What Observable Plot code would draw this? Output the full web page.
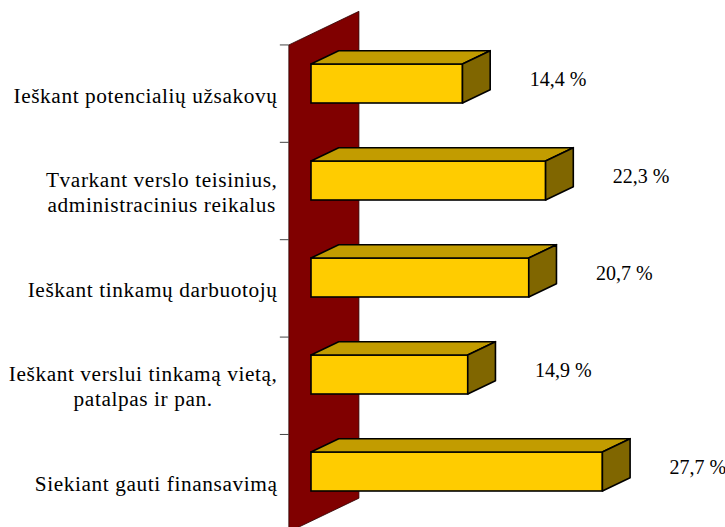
<!DOCTYPE html>
<html><head><meta charset="utf-8">
<script src="https://cdn.jsdelivr.net/npm/d3@7"></script>
<script src="https://cdn.jsdelivr.net/npm/@observablehq/plot@0.6"></script>
<style>
html,body{margin:0;padding:0;background:#fff;overflow:hidden}
#chart svg text{font-family:"Liberation Serif","Times New Roman",serif !important}
</style>
</head><body><div id="chart"></div>
<script>
const categories = [
  "Ieškant potencialių užsakovų",
  "Tvarkant verslo teisinius,\nadministracinius reikalus",
  "Ieškant tinkamų darbuotojų",
  "Ieškant verslui tinkamą vietą,\npatalpas ir pan.",
  "Siekiant gauti finansavimą"
];
const values = [14.4, 22.3, 20.7, 14.9, 27.7];
const data = categories.map((c, i) => ({category: c, value: values[i]}));

// 3D depth vector (pixels per unit depth) and wall depth extent
const DX = 27.7, DY = -13.3;
const WALL_NEAR = -0.8, WALL_FAR = 1.73;
const FONT = "Liberation Serif";
const fmt = v => v.toFixed(1).replace(".", ",") + " %";

const NS = "http://www.w3.org/2000/svg";
function path(d, fill, stroke, sw) {
  const p = document.createElementNS(NS, "path");
  p.setAttribute("d", d);
  p.setAttribute("fill", fill);
  p.setAttribute("stroke", stroke);
  p.setAttribute("stroke-width", sw);
  p.setAttribute("stroke-linejoin", "round");
  return p;
}

const wall = Plot.ruleX([0], {
  x: 0,
  render(index, scales, vals, dims) {
    const g = document.createElementNS(NS, "g");
    const x0 = scales.x(0);
    const top = dims.marginTop, bottom = dims.height - dims.marginBottom;
    const xl = x0 + WALL_NEAR * DX, xr = x0 + WALL_FAR * DX;
    const d = `M${xl},${top + WALL_NEAR * DY}L${xr},${top + WALL_FAR * DY}L${xr},${bottom + WALL_FAR * DY}L${xl},${bottom + WALL_NEAR * DY}Z`;
    g.appendChild(path(d, "#800000", "#2a0000", 0.8));
    const n = categories.length, step = (bottom - top) / n;
    for (let i = 0; i <= n; i++) {
      const y = top + i * step + WALL_NEAR * DY;
      g.appendChild(path(`M${xl - 9},${y}L${xl},${y}`, "none", "#444", 1));
    }
    return g;
  }
});

const bars = Plot.barX(data, {
  x: "value",
  y: "category",
  fill: "#FFCC00",
  stroke: "#000",
  strokeWidth: 1.6,
  render(index, scales, vals, dims, ctx, next) {
    const g = next(index, scales, vals, dims, ctx);
    g.querySelectorAll("rect").forEach(r => {
      const x = +r.getAttribute("x"), y = +r.getAttribute("y");
      const w = +r.getAttribute("width"), h = +r.getAttribute("height");
      g.appendChild(path(`M${x},${y}L${x + w},${y}L${x + w + DX},${y + DY}L${x + DX},${y + DY}Z`, "#C29C00", "#000", 1.6));
      g.appendChild(path(`M${x + w},${y}L${x + w + DX},${y + DY}L${x + w + DX},${y + h + DY}L${x + w},${y + h}Z`, "#806600", "#000", 1.6));
    });
    return g;
  }
});

const chart = Plot.plot({
  width: 725,
  height: 527,
  marginLeft: 311,
  marginRight: 98.4,
  marginTop: 34.3,
  marginBottom: 5.8,
  style: {fontSize: "20px", background: "#fff", color: "#000"},
  x: {domain: [0, 30], axis: null},
  y: {domain: categories, paddingInner: 0.595, paddingOuter: 0.2975, axis: null},
  marks: [
    wall,
    bars,
    Plot.text(data, {
      x: 0, y: "category", text: "category",
      textAnchor: "end", lineAnchor: "middle", lineHeight: 1.18,
      dx: -34, dy: WALL_NEAR * DY,
      fontSize: 21.3, fontFamily: FONT, fill: "#000"
    }),
    Plot.text(data, {
      x: "value", y: "category", text: d => fmt(d.value),
      textAnchor: "middle", dx: 95, dy: -4,
      fontSize: 20, fontFamily: FONT, fill: "#000"
    })
  ]
});
document.getElementById("chart").append(chart);

// letter spacing + centre the lines of multi-line labels (block stays right-aligned)
const textGroups = chart.querySelectorAll('g[aria-label="text"]');
const lg = textGroups[0];
if (lg) {
  lg.setAttribute("letter-spacing", "0.6px");
  lg.querySelectorAll("text").forEach(t => {
    const spans = t.querySelectorAll("tspan");
    if (spans.length < 2) return;
    const w = Math.max(...[...spans].map(s => s.getComputedTextLength()));
    t.setAttribute("text-anchor", "middle");
    spans.forEach(s => s.setAttribute("x", -w / 2));
  });
}
</script>
</body></html>
